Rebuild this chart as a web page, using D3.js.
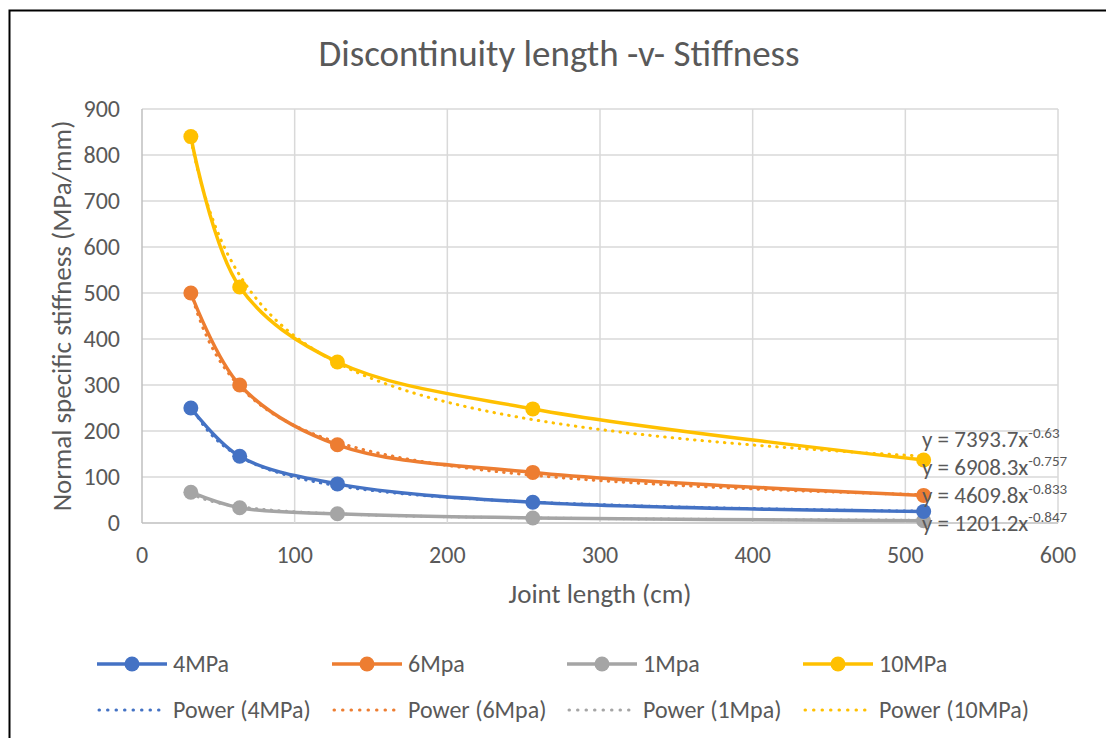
<!DOCTYPE html>
<html><head><meta charset="utf-8">
<script src="https://cdn.jsdelivr.net/npm/d3@7"></script>
<style>body{margin:0;background:#fff}svg{display:block}text{font-family:Carlito,Lato,"Open Sans",sans-serif;fill:#595959}</style>
</head><body><svg id="c" width="1106" height="738"></svg>
<script>
const xValues = [32, 64, 128, 256, 512];
const seriesNames = ["4MPa", "6Mpa", "1Mpa", "10MPa"];
const s4MPa = [250, 145, 85, 45, 25];
const s6MPa = [500, 300, 170, 110, 60];
const s1MPa = [67, 33, 20, 11, 5];
const s10MPa = [840, 513, 350, 248, 137];
const trendA = [4609.8, 6908.3, 1201.2, 7393.7];
const trendB = [-0.833, -0.757, -0.847, -0.63];
const xTicks = [0, 100, 200, 300, 400, 500, 600];
const yTicks = [0, 100, 200, 300, 400, 500, 600, 700, 800, 900];
const colors = ["#4472C4", "#ED7D31", "#A5A5A5", "#FFC000"];
const seriesValues = [s4MPa, s6MPa, s1MPa, s10MPa];

const svg = d3.select("#c");
svg.append("rect").attr("x",9.5).attr("y",10.5).attr("width",1110).attr("height",740).attr("fill","#fff").attr("stroke","#000").attr("stroke-width",2);

const x = d3.scaleLinear().domain([0,600]).range([142,1058]);
const y = d3.scaleLinear().domain([0,900]).range([523,109]);

// grid
svg.append("g").selectAll("line").data(yTicks).join("line")
  .attr("x1",x(0)).attr("x2",x(600)).attr("y1",d=>y(d)).attr("y2",d=>y(d))
  .attr("stroke",d=>d===0?"#bfbfbf":"#d9d9d9").attr("stroke-width",1.5);
svg.append("g").selectAll("line").data(xTicks).join("line")
  .attr("y1",y(0)).attr("y2",y(900)).attr("x1",d=>x(d)).attr("x2",d=>x(d))
  .attr("stroke",d=>d===0?"#bfbfbf":"#d9d9d9").attr("stroke-width",1.5);

// tick labels
svg.append("g").selectAll("text").data(yTicks).join("text")
  .attr("x",x(0)-22).attr("y",d=>y(d)+8).attr("text-anchor","end").attr("font-size",24).text(d=>d);
svg.append("g").selectAll("text").data(xTicks).join("text")
  .attr("x",d=>x(d)).attr("y",y(0)+40).attr("text-anchor","middle").attr("font-size",24).text(d=>d);

// titles
svg.append("text").attr("x",559).attr("y",66).attr("text-anchor","middle").attr("font-size",37).text("Discontinuity length -v- Stiffness");
svg.append("text").attr("x",600).attr("y",603).attr("text-anchor","middle").attr("font-size",27).text("Joint length (cm)");
svg.append("text").attr("transform","translate(71,316) rotate(-90)").attr("text-anchor","middle").attr("font-size",27).text("Normal specific stiffness (MPa/mm)");

const line = d3.line().x(d=>x(d[0])).y(d=>y(d[1])).curve(d3.curveCatmullRom.alpha(0.5));
const drawOrder = [2,0,1,3];
// trendlines
drawOrder.forEach(i=>{
  const pts = d3.range(32,512.01,4).map(v=>[v, trendA[i]*Math.pow(v,trendB[i])]);
  svg.append("path").attr("d",d3.line().x(d=>x(d[0])).y(d=>y(d[1]))(pts))
    .attr("fill","none").attr("stroke",colors[i]).attr("stroke-width",3).attr("stroke-dasharray","0.5 7").attr("stroke-linecap","round");
});
drawOrder.forEach(i=>{
  const pts = xValues.map((v,j)=>[v, seriesValues[i][j]]);
  svg.append("path").attr("d",line(pts)).attr("fill","none").attr("stroke",colors[i]).attr("stroke-width",3.5);
  svg.append("g").selectAll("circle").data(pts).join("circle")
    .attr("cx",d=>x(d[0])).attr("cy",d=>y(d[1])).attr("r",7.5).attr("fill",colors[i]);
});

// equations
const eqOrder = [3,1,0,2];
const eqY = [447, 475, 503, 531];
eqOrder.forEach((i,k)=>{
  const t = svg.append("text").attr("x",922).attr("y",eqY[k]).attr("font-size",23);
  t.append("tspan").text("y = "+trendA[i]+"x");
  t.append("tspan").attr("dy",-9).attr("font-size",15).text(String(trendB[i]));
});

// legend
const legX = [97, 332, 567, 803];
seriesNames.forEach((n,i)=>{
  const g = svg.append("g");
  g.append("line").attr("x1",legX[i]).attr("x2",legX[i]+70).attr("y1",664).attr("y2",664).attr("stroke",colors[i]).attr("stroke-width",3.5);
  g.append("circle").attr("cx",legX[i]+35).attr("cy",664).attr("r",7.5).attr("fill",colors[i]);
  g.append("text").attr("x",legX[i]+76).attr("y",672).attr("font-size",24).text(n);
  g.append("line").attr("x1",legX[i]+2).attr("x2",legX[i]+70).attr("y1",710).attr("y2",710).attr("stroke",colors[i]).attr("stroke-width",3).attr("stroke-dasharray","0.5 8").attr("stroke-linecap","round");
  g.append("text").attr("x",legX[i]+76).attr("y",718).attr("font-size",24).text("Power ("+n+")");
});
</script></body></html>
